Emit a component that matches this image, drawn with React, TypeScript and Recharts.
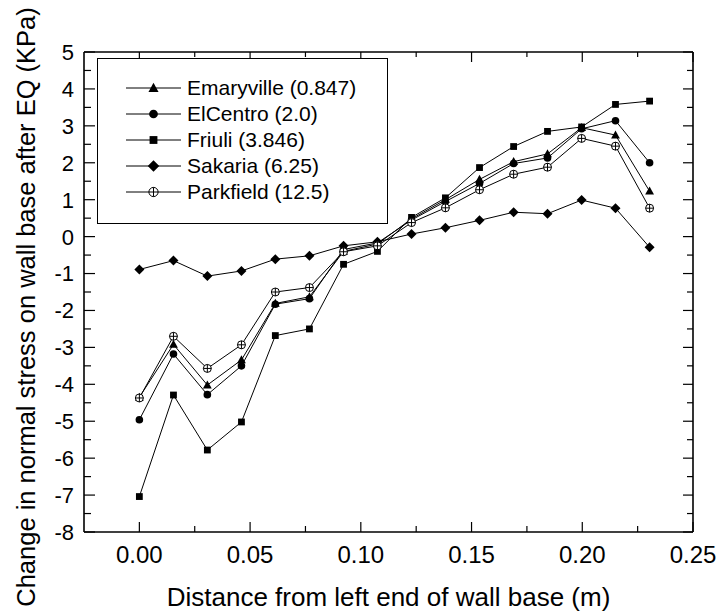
import React from "react";
import { LineChart, Line, XAxis, YAxis, Legend } from "recharts";

// node positions along the wall base (m)
const xPositions = [
	0, 0.0154, 0.0307, 0.0461, 0.0614, 0.0768, 0.0922, 0.1075, 0.1229, 0.1382,
	0.1536, 0.169, 0.1843, 0.1997, 0.215, 0.2304,
];

// change in normal stress (KPa) per record
const emaryville = [
	-4.35, -2.92, -4.02, -3.34, -1.81, -1.63, -0.4, -0.2, 0.48, 1.0, 1.55, 2.03,
	2.24, 2.95, 2.75, 1.23,
];
const elCentro = [
	-4.96, -3.18, -4.28, -3.5, -1.83, -1.68, -0.35, -0.17, 0.45, 0.95, 1.44, 1.98,
	2.13, 2.92, 3.14, 2.0,
];
const friuli = [
	-7.04, -4.29, -5.78, -5.02, -2.68, -2.5, -0.75, -0.4, 0.52, 1.05, 1.87, 2.44,
	2.85, 2.97, 3.58, 3.67,
];
const sakaria = [
	-0.89, -0.65, -1.07, -0.93, -0.61, -0.52, -0.25, -0.14, 0.07, 0.24, 0.44, 0.66,
	0.62, 0.99, 0.77, -0.29,
];
const parkfield = [
	-4.37, -2.7, -3.57, -2.93, -1.5, -1.38, -0.41, -0.25, 0.38, 0.78, 1.27, 1.69,
	1.88, 2.66, 2.45, 0.77,
];

const seriesKeys = ["emaryville", "elCentro", "friuli", "sakaria", "parkfield"];
const seriesNames = [
	"Emaryville (0.847)",
	"ElCentro (2.0)",
	"Friuli (3.846)",
	"Sakaria (6.25)",
	"Parkfield (12.5)",
];
const seriesShapes = ["triangle", "circle", "square", "diamond", "cplus"];

const xTicks = [
	0, 0.025, 0.05, 0.075, 0.1, 0.125, 0.15, 0.175, 0.2, 0.225, 0.25,
];
const yTicks = [
	-8, -7.5, -7, -6.5, -6, -5.5, -5, -4.5, -4, -3.5, -3, -2.5, -2, -1.5, -1,
	-0.5, 0, 0.5, 1, 1.5, 2, 2.5, 3, 3.5, 4, 4.5, 5,
];

const data = xPositions.map((x, i) => ({
	x,
	emaryville: emaryville[i],
	elCentro: elCentro[i],
	friuli: friuli[i],
	sakaria: sakaria[i],
	parkfield: parkfield[i],
}));

const FONT = '"Liberation Sans", Arial, Helvetica, sans-serif';

function Marker({ shape, cx, cy, s = 1 }: any) {
	if (cx == null || cy == null) return null;
	switch (shape) {
		case "triangle":
			return (
				<polygon
					points={`${cx},${cy - 4.6 * s} ${cx + 4.4 * s},${cy + 3.4 * s} ${cx - 4.4 * s},${cy + 3.4 * s}`}
					fill="#000"
				/>
			);
		case "circle":
			return <circle cx={cx} cy={cy} r={3.8 * s} fill="#000" />;
		case "square":
			return (
				<rect
					x={cx - 3.4 * s}
					y={cy - 3.4 * s}
					width={6.8 * s}
					height={6.8 * s}
					fill="#000"
				/>
			);
		case "diamond":
			return (
				<polygon
					points={`${cx},${cy - 5 * s} ${cx + 5 * s},${cy} ${cx},${cy + 5 * s} ${cx - 5 * s},${cy}`}
					fill="#000"
				/>
			);
		default:
			return (
				<g>
					<circle cx={cx} cy={cy} r={4 * s} fill="#fff" stroke="#000" strokeWidth={1} />
					<line x1={cx - 4 * s} x2={cx + 4 * s} y1={cy} y2={cy} stroke="#000" strokeWidth={1} />
					<line x1={cx} x2={cx} y1={cy - 4 * s} y2={cy + 4 * s} stroke="#000" strokeWidth={1} />
				</g>
			);
	}
}

const isMajorX = (v: number) => Math.abs(v * 20 - Math.round(v * 20)) < 1e-6;
const isMajorY = (v: number) => Math.abs(v - Math.round(v)) < 1e-6;

function BottomTick({ x, y, payload }: any) {
	const v = payload.value;
	const major = isMajorX(v);
	return (
		<g>
			<line x1={x} x2={x} y1={y} y2={y - (major ? 10 : 6)} stroke="#000" strokeWidth={1.2} />
			{major && (
				<text x={x} y={y + 31} textAnchor="middle" fontSize={24} fontFamily={FONT} fill="#000">
					{v.toFixed(2)}
				</text>
			)}
		</g>
	);
}

function TopTick({ x, y, payload }: any) {
	const major = isMajorX(payload.value);
	return <line x1={x} x2={x} y1={y} y2={y + (major ? 10 : 5)} stroke="#000" strokeWidth={1.2} />;
}

function LeftTick({ x, y, payload }: any) {
	const v = payload.value;
	const major = isMajorY(v);
	return (
		<g>
			<line x1={x} x2={x + (major ? 11 : 7)} y1={y} y2={y} stroke="#000" strokeWidth={1.2} />
			{major && (
				<text x={x - 10} y={y} dy="0.36em" textAnchor="end" fontSize={22} fontFamily={FONT} fill="#000">
					{v}
				</text>
			)}
		</g>
	);
}

function RightTick({ x, y, payload }: any) {
	const major = isMajorY(payload.value);
	return <line x1={x} x2={x - (major ? 10 : 6)} y1={y} y2={y} stroke="#000" strokeWidth={1.2} />;
}

function XTitle({ viewBox }: any) {
	const vb = viewBox || { x: 84, y: 532, width: 609 };
	return (
		<text x={vb.x + vb.width / 2} y={vb.y + 74} textAnchor="middle" fontSize={26} fontFamily={FONT} fill="#000">
			Distance from left end of wall base (m)
		</text>
	);
}

function YTitle() {
	const x = 35;
	const y = 307;
	return (
		<text
			x={x}
			y={y}
			textAnchor="middle"
			fontSize={25.5}
			fontFamily={FONT}
			fill="#000"
			transform={`rotate(-90, ${x}, ${y})`}
		>
			Change in normal stress on wall base after EQ (KPa)
		</text>
	);
}

function LegendBox() {
	return (
		<div
			style={{
				boxSizing: "border-box",
				width: 291,
				height: 166,
				border: "1px solid #000",
				background: "#fff",
				paddingTop: 16,
				fontFamily: FONT,
				fontSize: 21,
				color: "#000",
			}}
		>
			{seriesNames.map((name, i) => (
				<div key={name} style={{ display: "flex", alignItems: "center", height: 26 }}>
					<svg width={83} height={26} style={{ flex: "none" }}>
						<line x1={28} x2={83} y1={13} y2={13} stroke="#000" strokeWidth={1} />
						<Marker shape={seriesShapes[i]} cx={55.5} cy={13} s={1.15} />
					</svg>
					<span style={{ marginLeft: 6, whiteSpace: "nowrap", lineHeight: "26px" }}>{name}</span>
				</div>
			))}
		</div>
	);
}

export default function App() {
	return (
		<div style={{ position: "absolute", left: 0, top: 0, background: "#fff" }}>
			<LineChart
				width={719}
				height={615}
				data={data}
				margin={{ top: 42, right: 0, bottom: 0, left: 0 }}
			>
				<XAxis
					dataKey="x"
					type="number"
					domain={[-0.025, 0.25]}
					allowDataOverflow
					ticks={xTicks}
					interval={0}
					height={83}
					tickSize={0}
					tickMargin={0}
					tick={<BottomTick />}
					axisLine={{ stroke: "#000", strokeWidth: 1.6 }}
					label={<XTitle />}
				/>
				<XAxis
					xAxisId="top"
					orientation="top"
					dataKey="x"
					type="number"
					domain={[-0.025, 0.25]}
					allowDataOverflow
					ticks={xTicks}
					interval={0}
					height={10}
					tickSize={0}
					tickMargin={0}
					tick={<TopTick />}
					axisLine={{ stroke: "#000", strokeWidth: 1.6 }}
				/>
				<YAxis
					type="number"
					domain={[-8, 5]}
					allowDataOverflow
					ticks={yTicks}
					interval={0}
					width={84}
					tickSize={0}
					tickMargin={0}
					tick={<LeftTick />}
					axisLine={{ stroke: "#000", strokeWidth: 1.6 }}
					label={<YTitle />}
				/>
				<YAxis
					yAxisId="right"
					orientation="right"
					type="number"
					domain={[-8, 5]}
					allowDataOverflow
					ticks={yTicks}
					interval={0}
					width={26}
					tickSize={0}
					tickMargin={0}
					tick={<RightTick />}
					axisLine={{ stroke: "#000", strokeWidth: 1.6 }}
				/>
				{seriesKeys.map((key, i) => (
					<Line
						key={key}
						dataKey={key}
						name={seriesNames[i]}
						type="linear"
						stroke="#000"
						strokeWidth={1}
						isAnimationActive={false}
						dot={(p: any) => (
							<Marker key={`${key}-${p.index}`} shape={seriesShapes[i]} cx={p.cx} cy={p.cy} />
						)}
						activeDot={false}
					/>
				))}
				<Legend
					layout="horizontal"
					verticalAlign="middle"
					align="center"
					content={<LegendBox />}
					wrapperStyle={{ left: 97, top: 58, width: 291, height: 166 }}
				/>
			</LineChart>
		</div>
	);
}
